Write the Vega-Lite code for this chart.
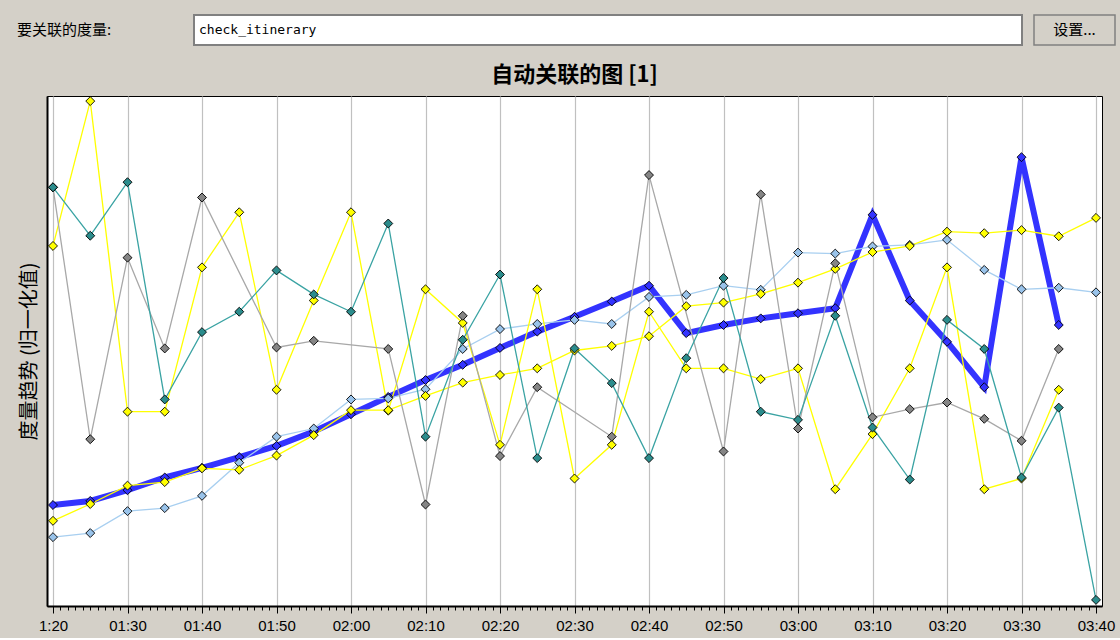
{
  "$schema": "https://vega.github.io/schema/vega-lite/v6.json",
  "background": "#d4d0c8",
  "padding": {"left": 17, "top": 14, "right": 8, "bottom": 4},
  "spacing": 17,
  "vconcat": [
    {
      "spacing": 10,
      "hconcat": [
        {
          "width": 136,
          "height": 30,
          "view": {"stroke": null},
          "data": {"values": [{"label": "要关联的度量:"}]},
          "mark": {"type": "text", "align": "left", "baseline": "middle", "dx": -30, "font": "Noto Sans CJK SC", "fontSize": 15, "color": "#000000"},
          "encoding": {
            "text": {"field": "label", "type": "nominal"},
            "x": {"field": "label", "type": "nominal", "scale": {"type": "point", "padding": 0, "align": 0}, "axis": null}
          }
        },
        {
          "width": 828,
          "height": 30,
          "view": {"fill": "#ffffff", "stroke": "#808080", "strokeWidth": 2},
          "data": {"values": [{"measure": "check_itinerary"}]},
          "mark": {"type": "text", "align": "left", "baseline": "middle", "dx": 5, "font": "DejaVu Sans Mono", "fontSize": 13, "color": "#000000"},
          "encoding": {
            "text": {"field": "measure", "type": "nominal"},
            "x": {"field": "measure", "type": "nominal", "scale": {"type": "point", "padding": 0, "align": 0}, "axis": null}
          }
        },
        {
          "width": 81,
          "height": 30,
          "view": {"fill": "#d4d0c8", "stroke": "#808080", "strokeWidth": 1.5},
          "data": {"values": [{"button": "设置..."}]},
          "mark": {"type": "text", "align": "center", "baseline": "middle", "font": "Noto Sans CJK SC", "fontSize": 15, "color": "#000000"},
          "encoding": {"text": {"field": "button", "type": "nominal"}}
        }
      ]
    },
    {
      "width": 1055,
      "height": 510,
      "view": {"fill": "#ffffff", "stroke": "#000000", "strokeWidth": 1},
      "title": {"text": "自动关联的图 [1]", "font": "Noto Sans CJK SC", "fontSize": 22, "fontWeight": "bold", "color": "#000000", "anchor": "middle", "offset": 8},
      "data": {
        "values": [
          {"t": "2024-01-01T01:20:00", "check_itinerary": 0.198, "metric_b": 0.135, "metric_c": 0.706, "metric_d": 0.167, "metric_e": 0.821, "metric_f": 0.821},
          {"t": "2024-01-01T01:25:00", "check_itinerary": 0.206, "metric_b": 0.143, "metric_c": 0.990, "metric_d": 0.200, "metric_e": 0.327, "metric_f": 0.726},
          {"t": "2024-01-01T01:30:00", "check_itinerary": 0.227, "metric_b": 0.186, "metric_c": 0.381, "metric_d": 0.236, "metric_e": 0.683, "metric_f": 0.831},
          {"t": "2024-01-01T01:35:00", "check_itinerary": 0.252, "metric_b": 0.192, "metric_c": 0.381, "metric_d": 0.243, "metric_e": 0.505, "metric_f": 0.405},
          {"t": "2024-01-01T01:40:00", "check_itinerary": 0.271, "metric_b": 0.216, "metric_c": 0.664, "metric_d": 0.270, "metric_e": 0.801, "metric_f": 0.537},
          {"t": "2024-01-01T01:45:00", "check_itinerary": 0.292, "metric_b": 0.281, "metric_c": 0.772, "metric_d": 0.267, "metric_e": null, "metric_f": 0.577},
          {"t": "2024-01-01T01:50:00", "check_itinerary": 0.314, "metric_b": 0.332, "metric_c": 0.424, "metric_d": 0.295, "metric_e": 0.507, "metric_f": 0.658},
          {"t": "2024-01-01T01:55:00", "check_itinerary": 0.342, "metric_b": 0.348, "metric_c": 0.599, "metric_d": 0.335, "metric_e": 0.520, "metric_f": 0.611},
          {"t": "2024-01-01T02:00:00", "check_itinerary": 0.376, "metric_b": 0.405, "metric_c": 0.772, "metric_d": 0.384, "metric_e": null, "metric_f": 0.577},
          {"t": "2024-01-01T02:05:00", "check_itinerary": 0.410, "metric_b": 0.407, "metric_c": 0.383, "metric_d": 0.384, "metric_e": 0.504, "metric_f": 0.750},
          {"t": "2024-01-01T02:10:00", "check_itinerary": 0.443, "metric_b": 0.425, "metric_c": 0.621, "metric_d": 0.412, "metric_e": 0.199, "metric_f": 0.332},
          {"t": "2024-01-01T02:15:00", "check_itinerary": 0.473, "metric_b": 0.504, "metric_c": 0.555, "metric_d": 0.438, "metric_e": 0.569, "metric_f": 0.522},
          {"t": "2024-01-01T02:20:00", "check_itinerary": 0.506, "metric_b": 0.543, "metric_c": 0.316, "metric_d": 0.453, "metric_e": 0.294, "metric_f": 0.650},
          {"t": "2024-01-01T02:25:00", "check_itinerary": 0.538, "metric_b": 0.553, "metric_c": 0.621, "metric_d": 0.466, "metric_e": 0.429, "metric_f": 0.290},
          {"t": "2024-01-01T02:30:00", "check_itinerary": 0.567, "metric_b": 0.561, "metric_c": 0.250, "metric_d": 0.501, "metric_e": null, "metric_f": 0.505},
          {"t": "2024-01-01T02:35:00", "check_itinerary": 0.597, "metric_b": 0.553, "metric_c": 0.316, "metric_d": 0.510, "metric_e": 0.332, "metric_f": 0.437},
          {"t": "2024-01-01T02:40:00", "check_itinerary": 0.628, "metric_b": 0.606, "metric_c": 0.577, "metric_d": 0.529, "metric_e": 0.845, "metric_f": 0.290},
          {"t": "2024-01-01T02:45:00", "check_itinerary": 0.535, "metric_b": 0.610, "metric_c": 0.466, "metric_d": 0.588, "metric_e": null, "metric_f": 0.486},
          {"t": "2024-01-01T02:50:00", "check_itinerary": 0.551, "metric_b": 0.628, "metric_c": 0.466, "metric_d": 0.595, "metric_e": 0.303, "metric_f": 0.643},
          {"t": "2024-01-01T02:55:00", "check_itinerary": 0.564, "metric_b": 0.620, "metric_c": 0.445, "metric_d": 0.612, "metric_e": 0.807, "metric_f": 0.381},
          {"t": "2024-01-01T03:00:00", "check_itinerary": 0.574, "metric_b": 0.693, "metric_c": 0.466, "metric_d": 0.634, "metric_e": 0.348, "metric_f": 0.365},
          {"t": "2024-01-01T03:05:00", "check_itinerary": 0.584, "metric_b": 0.691, "metric_c": 0.229, "metric_d": 0.661, "metric_e": 0.672, "metric_f": 0.569},
          {"t": "2024-01-01T03:10:00", "check_itinerary": 0.767, "metric_b": 0.705, "metric_c": 0.337, "metric_d": 0.694, "metric_e": 0.370, "metric_f": 0.350},
          {"t": "2024-01-01T03:15:00", "check_itinerary": 0.599, "metric_b": 0.708, "metric_c": 0.466, "metric_d": 0.706, "metric_e": 0.386, "metric_f": 0.248},
          {"t": "2024-01-01T03:20:00", "check_itinerary": 0.518, "metric_b": 0.718, "metric_c": 0.664, "metric_d": 0.734, "metric_e": 0.399, "metric_f": 0.561},
          {"t": "2024-01-01T03:25:00", "check_itinerary": 0.429, "metric_b": 0.659, "metric_c": 0.229, "metric_d": 0.731, "metric_e": 0.367, "metric_f": 0.504},
          {"t": "2024-01-01T03:30:00", "check_itinerary": 0.880, "metric_b": 0.621, "metric_c": 0.250, "metric_d": 0.737, "metric_e": 0.324, "metric_f": 0.252},
          {"t": "2024-01-01T03:35:00", "check_itinerary": 0.551, "metric_b": 0.624, "metric_c": 0.424, "metric_d": 0.725, "metric_e": 0.504, "metric_f": 0.389},
          {"t": "2024-01-01T03:40:00", "check_itinerary": null, "metric_b": 0.615, "metric_c": null, "metric_d": 0.761, "metric_e": null, "metric_f": 0.012}
        ]
      },
      "transform": [
        {"fold": ["check_itinerary", "metric_b", "metric_c", "metric_d", "metric_e", "metric_f"], "as": ["series", "value"]},
        {"filter": "isValid(datum.value)"}
      ],
      "encoding": {
        "x": {
          "field": "t",
          "type": "temporal",
          "scale": {"padding": 6},
          "axis": {
            "title": null,
            "tickCount": 140,
            "labelExpr": "minutes(datum.value) % 10 == 0 ? ((hours(datum.value) == 1 && minutes(datum.value) == 20) ? '1:20' : timeFormat(datum.value, '%H:%M')) : ''",
            "labelOverlap": false,
            "labelFlush": false,
            "grid": true,
            "gridColor": "#c0c0c0",
            "gridWidth": 1.2,
            "gridOpacity": {"condition": {"test": "minutes(datum.value) % 10 == 0", "value": 1}, "value": 0},
            "tickSize": {"condition": {"test": "minutes(datum.value) % 10 == 0", "value": 7}, "value": 4},
            "domainColor": "#000000",
            "domainWidth": 2,
            "tickColor": "#000000",
            "labelFont": "Liberation Sans",
            "labelFontSize": 15,
            "labelColor": "#000000",
            "labelPadding": 5
          }
        },
        "y": {
          "field": "value",
          "type": "quantitative",
          "scale": {"domain": [0, 1], "nice": false, "zero": false},
          "axis": {
            "title": "度量趋势 (归一化值)",
            "titleFont": "Noto Sans CJK SC",
            "titleFontSize": 20,
            "titleFontWeight": "normal",
            "titleColor": "#000000",
            "titlePadding": 8,
            "labels": false,
            "ticks": false,
            "grid": false,
            "domainColor": "#000000",
            "domainWidth": 2
          }
        }
      },
      "layer": [
        {
          "transform": [{"filter": "datum.series == 'check_itinerary'"}],
          "mark": {"type": "line", "color": "#3333ff", "strokeWidth": 6}
        },
        {
          "transform": [{"filter": "datum.series != 'check_itinerary'"}],
          "mark": {"type": "line", "strokeWidth": 1.3},
          "encoding": {
            "color": {
              "field": "series",
              "type": "nominal",
              "scale": {"domain": ["metric_b", "metric_c", "metric_d", "metric_e", "metric_f"], "range": ["#a8cff0", "#ffff00", "#ffff00", "#a8a8a8", "#3aa3a3"]},
              "legend": null
            }
          }
        },
        {
          "mark": {"type": "point", "shape": "diamond", "filled": true, "size": 80, "stroke": "#000000", "strokeWidth": 0.9, "opacity": 1},
          "encoding": {
            "fill": {
              "field": "series",
              "type": "nominal",
              "scale": {"domain": ["check_itinerary", "metric_b", "metric_c", "metric_d", "metric_e", "metric_f"], "range": ["#3333ff", "#99c3ea", "#ffff00", "#ffff00", "#858585", "#2b8c8c"]},
              "legend": null
            }
          }
        }
      ]
    }
  ]
}
